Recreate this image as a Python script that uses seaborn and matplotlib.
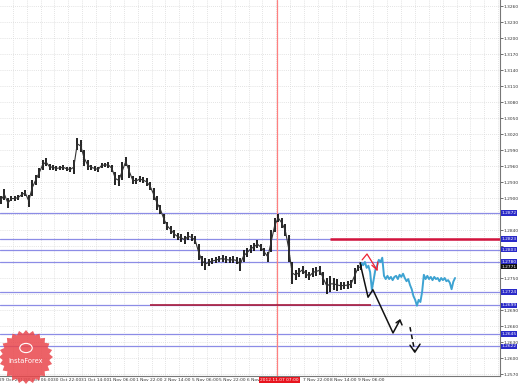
import numpy as np
import matplotlib
matplotlib.use("Agg")
import matplotlib.pyplot as plt
import seaborn as sns
import pandas as pd
from matplotlib.patches import Polygon, Circle

# ---------------- data (2-hour bars, EUR/USD) ----------------
bar_high = [1.2904, 1.2917, 1.2900, 1.2904, 1.2904, 1.2906, 1.2911, 1.2915, 1.2906, 1.2934,
            1.2943, 1.2956, 1.2971, 1.2975, 1.2964, 1.2962, 1.2960, 1.2960, 1.2962, 1.2958,
            1.2958, 1.2971, 1.3013, 1.3009, 1.2990, 1.2971, 1.2962, 1.2960, 1.2958, 1.2966,
            1.2966, 1.2968, 1.2962, 1.2949, 1.2943, 1.2968, 1.2977, 1.2962, 1.2941, 1.2938,
            1.2941, 1.2939, 1.2938, 1.2930, 1.2919, 1.2904, 1.2887, 1.2870, 1.2855, 1.2848,
            1.2840, 1.2834, 1.2833, 1.2829, 1.2836, 1.2833, 1.2829, 1.2814, 1.2791, 1.2788,
            1.2786, 1.2788, 1.2789, 1.2791, 1.2793, 1.2791, 1.2789, 1.2791, 1.2789, 1.2788,
            1.2803, 1.2806, 1.2812, 1.2816, 1.2821, 1.2814, 1.2806, 1.2799, 1.2840, 1.2863,
            1.2870, 1.2863, 1.2851, 1.2831, 1.2780, 1.2765, 1.2769, 1.2773, 1.2765, 1.2761,
            1.2769, 1.2771, 1.2773, 1.2761, 1.2750, 1.2754, 1.2750, 1.2748, 1.2743, 1.2743,
            1.2744, 1.2746, 1.2769, 1.2774, 1.2780]
bar_low = [1.2889, 1.2896, 1.2881, 1.2894, 1.2894, 1.2896, 1.2902, 1.2904, 1.2883, 1.2904,
           1.2924, 1.2938, 1.2953, 1.2960, 1.2953, 1.2953, 1.2951, 1.2953, 1.2953, 1.2951,
           1.2949, 1.2945, 1.2990, 1.2986, 1.2960, 1.2953, 1.2953, 1.2951, 1.2949, 1.2956,
           1.2958, 1.2956, 1.2949, 1.2924, 1.2923, 1.2934, 1.2960, 1.2938, 1.2926, 1.2926,
           1.2930, 1.2928, 1.2923, 1.2915, 1.2896, 1.2878, 1.2870, 1.2851, 1.2840, 1.2833,
           1.2825, 1.2821, 1.2818, 1.2814, 1.2821, 1.2819, 1.2814, 1.2784, 1.2773, 1.2765,
           1.2773, 1.2776, 1.2778, 1.2780, 1.2780, 1.2778, 1.2778, 1.2778, 1.2776, 1.2763,
           1.2780, 1.2789, 1.2797, 1.2801, 1.2806, 1.2801, 1.2791, 1.2780, 1.2799, 1.2836,
           1.2855, 1.2844, 1.2829, 1.2780, 1.2739, 1.2746, 1.2752, 1.2758, 1.2750, 1.2746,
           1.2752, 1.2754, 1.2756, 1.2737, 1.2720, 1.2724, 1.2728, 1.2726, 1.2728, 1.2729,
           1.2729, 1.2731, 1.2739, 1.2763, 1.2765]
# hourly forecast path (half-bar steps)
forecast = [1.2778, 1.2774, 1.2780, 1.2769, 1.2773, 1.2761, 1.2728, 1.2746, 1.2765, 1.2773,
            1.2784, 1.2780, 1.2788, 1.2754, 1.2748, 1.2754, 1.2748, 1.2752, 1.2746, 1.2752,
            1.2754, 1.2748, 1.2756, 1.2752, 1.2758, 1.2750, 1.2744, 1.2748, 1.2737, 1.2729,
            1.2716, 1.2709, 1.2698, 1.2709, 1.2705, 1.2724, 1.2756, 1.2748, 1.2754, 1.2748,
            1.2752, 1.2746, 1.2752, 1.2748, 1.2750, 1.2744, 1.2750, 1.2746, 1.2750, 1.2744,
            1.2746, 1.2741, 1.2729, 1.2743, 1.2750]
forecast_start = 104
forecast_step = 0.5

levels = [1.2872, 1.2823, 1.2803, 1.2780, 1.2724, 1.2699, 1.2645, 1.2622]
level_labels = ["1.2872", "1.2823", "1.2803", "1.2780", "1.2724", "1.2699", "1.2645", "1.2622"]
current_price = 1.2771
red_level = 1.2823
red_level_start = 94.9
support_level = 1.2699
support_range = (43.0, 106.7)
event_bar = 79.6
event_label = "2012.11.07 07:00"

time_labels = ["30 Oct 06:00", "30 Oct 22:00", "31 Oct 14:00", "1 Nov 06:00", "1 Nov 22:00",
               "2 Nov 14:00", "5 Nov 06:00", "5 Nov 22:00", "6 Nov 14:00",
               "7 Nov 22:00", "8 Nov 14:00", "9 Nov 06:00"]
time_label_bars = [7.43, 15.43, 23.43, 31.43, 39.43, 47.43, 55.43, 63.43, 71.43,
                   87.43, 95.43, 103.43]
first_label = "29 Oct 2012"

price_ticks = [round(1.2570 + 0.003 * i, 4) for i in range(24)]
hidden_tick_labels = [1.2870, 1.2780, 1.2720, 1.2810]

red_arrow_x = [104.2, 105.6, 108.5]
red_arrow_y = [1.2784, 1.2795, 1.2765]
red_head_x = [107.0, 108.5, 108.7]
red_head_y = [1.2774, 1.2765, 1.2780]
black_arrow_x = [103.6, 105.9, 107.3, 113.1, 115.1]
black_arrow_y = [1.2778, 1.2714, 1.2728, 1.2647, 1.2671]
black_head_x = [114.0, 115.1, 115.7]
black_head_y = [1.2666, 1.2671, 1.2662]
down_arrow_x = [118.0, 119.4]
down_arrow_y = [1.2658, 1.2611]
down_head_x = [118.0, 119.4, 120.9]
down_head_y = [1.2624, 1.2611, 1.2626]

# ---------------- figure ----------------
sns.set_theme(style="white")
plt.rcParams["font.family"] = ["DejaVu Sans"]
small_font = ["Liberation Sans Narrow", "DejaVu Sans"]
FS = 3.2

W, H = 519, 385
fig = plt.figure(figsize=(W / 100, H / 100), dpi=100)
fig.patch.set_facecolor("white")
ax = fig.add_axes([0, 9 / H, 500 / W, 376 / H])
ax.set_facecolor("white")

ax.set_xlim(-0.2885, 143.97)
ax.set_ylim(1.256625, 1.327125)

# grid
ax.set_xticks([3.43 + 4 * i for i in range(36)])
ax.set_yticks(price_ticks)
ax.grid(True, color="#dadada", linestyle=(0, (1, 1.5)), linewidth=0.6)
ax.tick_params(axis="x", bottom=False, labelbottom=False)
ax.yaxis.tick_right()
ax.tick_params(axis="y", right=True, length=2, width=0.5, pad=0.8,
               labelsize=FS, colors="#333333")
ax.set_yticklabels(["" if p in hidden_tick_labels else f"{p:.4f}" for p in price_ticks])
for lab in ax.get_yticklabels():
    lab.set_family(small_font)
for s in ["top", "left"]:
    ax.spines[s].set_visible(False)
for s in ["right", "bottom"]:
    ax.spines[s].set_color("#777777")
    ax.spines[s].set_linewidth(0.8)

# levels
for lv in levels:
    ax.axhline(lv, color="#8c8ce6", lw=0.9, zorder=1)
ax.hlines(red_level, red_level_start, 143.97, color="#d4143c", lw=1.8, zorder=2)
ax.hlines(support_level, support_range[0], support_range[1], color="#a81a3a", lw=1.2, zorder=2)
ax.axvline(event_bar, color="#ff8080", lw=0.9, zorder=1)

# price bars
k = np.arange(len(bar_high))
hi = np.array(bar_high)
lo = np.array(bar_low)
ax.vlines(k, lo, hi, color="#111111", lw=1.3, zorder=3)
df_mid = pd.DataFrame({"bar": k, "price": (hi + lo) / 2})
sns.lineplot(data=df_mid, x="bar", y="price", ax=ax, color="#333333", lw=0.8, zorder=3)

# forecast
df_fc = pd.DataFrame({"bar": np.arange(len(forecast)) * forecast_step + forecast_start,
                      "price": forecast})
sns.lineplot(data=df_fc, x="bar", y="price", ax=ax, color="#3ea3d2", lw=1.4, zorder=4)

# arrows
ax.plot(red_arrow_x, red_arrow_y, color="#ee2233", lw=0.9, zorder=5)
ax.plot(red_head_x, red_head_y, color="#ee2233", lw=0.9, zorder=5)
ax.plot(black_arrow_x, black_arrow_y, color="#111111", lw=1.1, zorder=5)
ax.plot(black_head_x, black_head_y, color="#111111", lw=1.1, zorder=5)
ax.plot(down_arrow_x, down_arrow_y, color="#111111", lw=1.1, ls=(0, (3, 2)), zorder=5)
ax.plot(down_head_x, down_head_y, color="#111111", lw=1.1, zorder=5)
ax.set_xlabel("")
ax.set_ylabel("")

# level labels on the right
ytr = ax.get_yaxis_transform()
for lv, lab in zip(levels, level_labels):
    ax.text(1.003, lv, lab, transform=ytr, fontsize=FS, color="white", va="center",
            ha="left", clip_on=False, zorder=10, family=small_font,
            bbox=dict(boxstyle="square,pad=0.15", fc="#2a2ac8", ec="none"))
ax.text(1.003, current_price, f"{current_price:.4f}", transform=ytr, fontsize=FS,
        color="white", va="center", ha="left", clip_on=False, zorder=10, family=small_font,
        bbox=dict(boxstyle="square,pad=0.15", fc="#111111", ec="none"))

# time labels
xtr = ax.get_xaxis_transform()
ax.text(-0.6, -0.011, first_label, transform=xtr, fontsize=FS, color="#333333",
        ha="left", va="center", clip_on=False, family=small_font)
for b, lab in zip(time_label_bars, time_labels):
    ax.text(b - 0.4, -0.011, lab, transform=xtr, fontsize=FS, color="#333333",
            ha="left", va="center", clip_on=False, family=small_font)
ax.text(event_bar + 0.8, -0.011, event_label, transform=xtr, fontsize=FS, color="white",
        ha="center", va="center", clip_on=False, zorder=10, family=small_font,
        bbox=dict(boxstyle="square,pad=0.2", fc="#e8141e", ec="none"))

# InstaForex seal (watermark)
cx, cy = 26, H - 357
ang = np.linspace(0, 2 * np.pi, 49)[:-1]
rad = np.where(np.arange(48) % 2 == 0, 27, 23.5)
pts = np.column_stack([(cx + rad * np.cos(ang)) / W, (cy + rad * np.sin(ang)) / H])
fig.patches.append(Polygon(pts, closed=True, transform=fig.transFigure,
                           fc="#e9474c", ec="none", alpha=0.85, zorder=20))
fig.patches.append(Circle((cx / W, (cy + 9) / H), 0.012, transform=fig.transFigure,
                          fc="none", ec="white", lw=0.8, zorder=21))
fig.text(cx / W, (cy - 4) / H, "InstaForex", color="white", fontsize=4.8,
         ha="center", va="center", zorder=22)

fig.savefig("out.png", dpi=100)
